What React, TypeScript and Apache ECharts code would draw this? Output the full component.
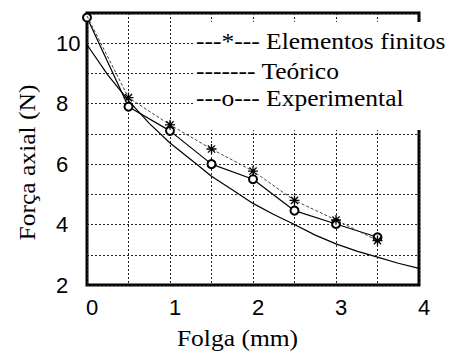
import React, { useEffect, useRef } from "react";
import * as echarts from "echarts";

const xValues = [0, 0.5, 1, 1.5, 2, 2.5, 3, 3.5];
const elementosFinitos = [10.9, 8.2, 7.3, 6.5, 5.77, 4.8, 4.15, 3.47];
const experimental = [10.85, 7.9, 7.1, 6.0, 5.5, 4.46, 4.02, 3.58];
const teoricoX = [0, 0.25, 0.5, 0.75, 1, 1.25, 1.5, 1.75, 2, 2.25, 2.5, 2.75, 3, 3.25, 3.5, 3.75, 4];
const teoricoY = [9.95, 8.95, 8.1, 7.35, 6.7, 6.15, 5.6, 5.15, 4.7, 4.33, 4.0, 3.65, 3.36, 3.12, 2.92, 2.72, 2.55];
const legendLabels = ["---*--- Elementos finitos", "------- Teórico", "---o--- Experimental"];
const xAxisName = "Folga (mm)";
const yAxisName = "Força axial (N)";

const SERIF = "Liberation Serif";
const SANS = "Liberation Sans";
const STAR = "path://M0,-5L0,5M-5,0L5,0M-3.6,-3.6L3.6,3.6M-3.6,3.6L3.6,-3.6";

export default function App() {
  const ref = useRef<HTMLDivElement>(null);
  useEffect(() => {
    if (!ref.current) return;
    const chart = echarts.init(ref.current, null, { renderer: "svg" });
    const legendY = [40.5, 71, 97.5];
    chart.setOption({
      animation: false,
      backgroundColor: "#fff",
      textStyle: { fontFamily: SANS },
      grid: {
        left: 87,
        top: 13,
        width: 332,
        height: 272,
        show: true,
        borderColor: "#000",
        borderWidth: 3,
        backgroundColor: "transparent",
      },
      xAxis: {
        type: "value",
        min: 0,
        max: 4,
        interval: 0.5,
        axisLine: { show: false },
        axisTick: { show: false },
        axisLabel: {
          formatter: (v: number) => (Number.isInteger(v) ? String(v) : ""),
          fontFamily: SANS,
          fontSize: 22,
          color: "#000",
          margin: 11,
          padding: [0, 0, 0, 10],
        },
        splitLine: { show: true, lineStyle: { color: "#222", type: [2, 2], width: 1 } },
      },
      yAxis: {
        type: "value",
        min: 2,
        max: 11,
        interval: 1,
        axisLine: { show: false },
        axisTick: { show: false },
        axisLabel: {
          formatter: (v: number) => (v % 2 === 0 && v <= 10 ? String(v) : ""),
          fontFamily: SANS,
          fontSize: 22,
          color: "#000",
          align: "left",
          margin: 31,
        },
        splitLine: { show: true, lineStyle: { color: "#222", type: [2, 2], width: 1 } },
      },
      series: [
        {
          name: "Teórico",
          type: "line",
          data: teoricoX.map((x, i) => [x, teoricoY[i]]),
          symbol: "none",
          lineStyle: { color: "#000", width: 1.2 },
          z: 3,
        },
        {
          name: "Experimental",
          type: "line",
          data: xValues.map((x, i) => [x, experimental[i]]),
          symbol: "emptyCircle",
          symbolSize: 8,
          lineStyle: { color: "#000", width: 1.2 },
          itemStyle: { color: "#000", borderColor: "#000", borderWidth: 1 },
          z: 4,
        },
        {
          name: "Elementos finitos",
          type: "line",
          data: xValues.map((x, i) =>
            i === 0 ? { value: [x, elementosFinitos[i]], symbol: "none" } : [x, elementosFinitos[i]]
          ),
          symbol: STAR,
          symbolSize: 10,
          lineStyle: { color: "#444", width: 1, type: [3, 2] },
          itemStyle: { color: "#000", borderColor: "#000", borderWidth: 1.3 },
          z: 5,
        },
      ],
      graphic: [
        {
          type: "rect",
          z: 100,
          shape: { x: 195, y: 22, width: 259, height: 108 },
          style: { fill: "#fff" },
        },
        ...legendLabels.map((t, i) => ({
          type: "text",
          z: 101,
          x: 196,
          y: legendY[i],
          scaleX: 1.11,
          style: {
            text: t,
            fontFamily: SERIF,
            fontSize: 23,
            fill: "#000",
            align: "left",
            verticalAlign: "middle",
          },
        })),
        {
          type: "text",
          z: 101,
          x: 237.5,
          y: 338,
          scaleX: 1.11,
          style: {
            text: xAxisName,
            fontFamily: SERIF,
            fontSize: 23,
            fill: "#000",
            align: "center",
            verticalAlign: "middle",
          },
        },
        {
          type: "text",
          z: 101,
          x: 27,
          y: 162.5,
          rotation: Math.PI / 2,
          scaleX: 1.11,
          style: {
            text: yAxisName,
            fontFamily: SERIF,
            fontSize: 23,
            fill: "#000",
            align: "center",
            verticalAlign: "middle",
          },
        },
      ],
    });
    return () => chart.dispose();
  }, []);
  return (
    <div
      ref={ref}
      style={{ position: "fixed", left: 0, top: 0, width: 454, height: 353 }}
    />
  );
}
